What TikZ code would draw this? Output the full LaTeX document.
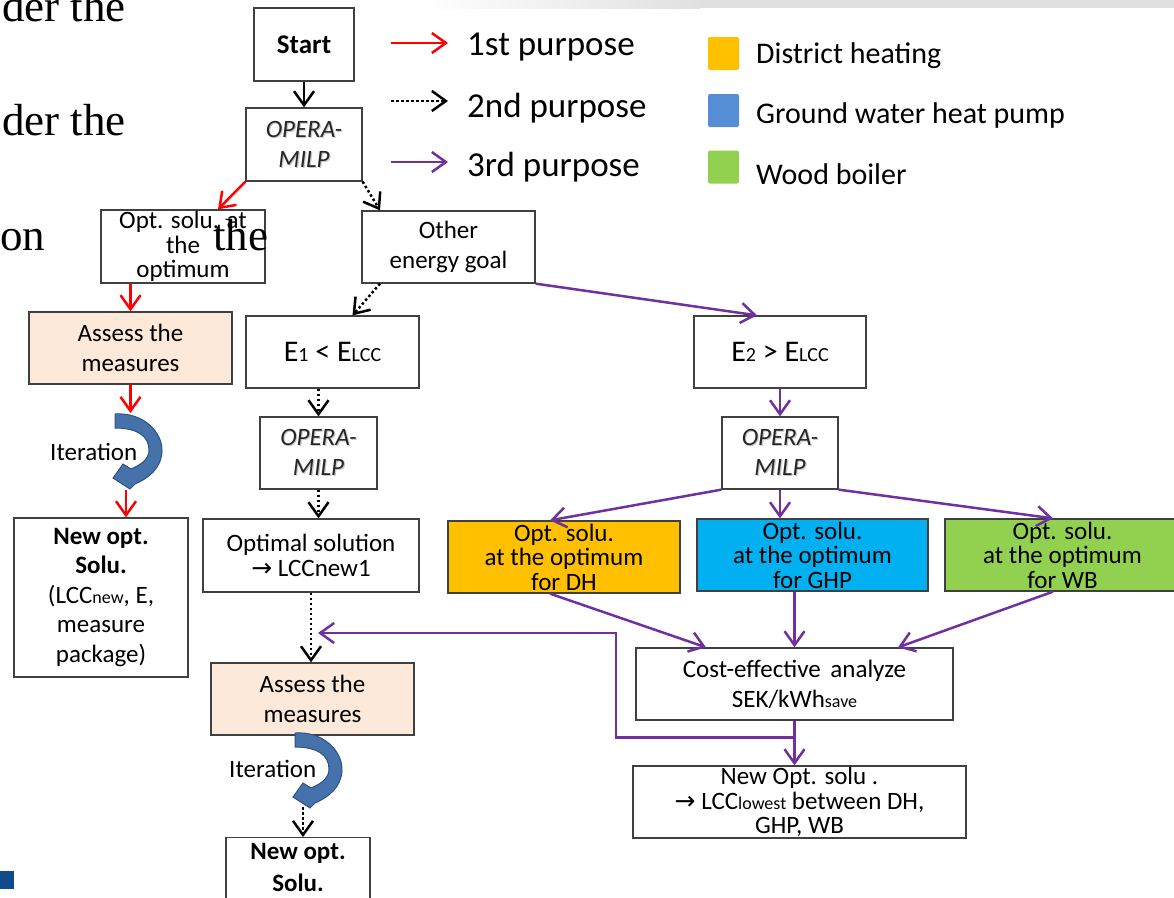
\documentclass[tikz,border=0pt]{standalone}
\usepackage{fontspec}
\setsansfont{Carlito}
\newfontfamily\symfont{DejaVu Sans}
\newfontfamily\slideserif{Liberation Serif}
\usetikzlibrary{arrows.meta}
\definecolor{edge_red}{RGB}{255,0,0}
\definecolor{edge_purple}{RGB}{112,48,160}
\definecolor{box_gray}{RGB}{64,64,64}
\definecolor{node_peach}{RGB}{253,233,217}
\definecolor{node_orange}{RGB}{255,192,0}
\definecolor{node_cyan}{RGB}{0,176,240}
\definecolor{node_green}{RGB}{146,208,80}
\definecolor{key_blue}{RGB}{85,142,213}
\definecolor{iter_blue}{RGB}{70,114,172}
\definecolor{iter_dark}{RGB}{44,82,130}
\definecolor{slide_blue}{RGB}{16,76,140}

\newcommand{\shtext}[1]{\rlap{\kern1.2pt\raisebox{-1.2pt}{\textcolor{black!22}{#1}}}#1}
\newcommand{\sm}[1]{{\fontsize{18}{18}\selectfont #1}}
\newcommand{\smE}[1]{{\fontsize{20}{20}\selectfont #1}}
\newcommand{\rarr}{{\symfont\char"2192}}
% curved blue "Iteration" arrow, drawn from its top left corner
\newcommand{\iterarc}[2]{%
  \filldraw[fill=iter_blue, draw=iter_dark, line width=1pt, shift={(#1,#2)}]
    (2,0) .. controls (30,-2) and (50,18) .. (49,38)
    .. controls (48,54) and (36,64) .. (22,70) -- (17,75) -- (0,64) -- (10,50) -- (18,55)
    .. controls (30,50) and (36,44) .. (36,36)
    .. controls (36,22) and (24,14) .. (2,14) -- cycle;}

\begin{document}
\begin{tikzpicture}[x=1pt,y=-1pt,>={Straight Barb[length=14pt,width=20pt]}]
    \tikzstyle{box}=[draw=box_gray, line width=1.3pt, fill=white, rectangle, inner sep=0pt, align=center, text=black, font=\sffamily\fontsize{25}{30}\selectfont]
    \tikzstyle{tight}=[font=\sffamily\fontsize{25}{24.5}\selectfont]
    \tikzstyle{peach}=[fill=node_peach]
    \tikzstyle{opera}=[font=\sffamily\itshape\fontsize{25}{30}\selectfont, text=black!85]
    \tikzstyle{keysq}=[rectangle, rounded corners=2pt, minimum width=31pt, minimum height=33pt, inner sep=0pt]
    \tikzstyle{keytext}=[anchor=base west, inner sep=0pt, font=\sffamily\fontsize{30}{30}\selectfont]
    \tikzstyle{purpose}=[anchor=base west, inner sep=0pt, font=\sffamily\fontsize{35}{35}\selectfont]
    \tikzstyle{solidarr}=[->, draw=black, line width=2.5pt]
    \tikzstyle{redarr}=[->, draw=edge_red, line width=2.5pt]
    \tikzstyle{purparr}=[->, draw=edge_purple, line width=2.5pt]
    \tikzstyle{dotarr}=[->, draw=black, line width=2.5pt, dash pattern=on 2.5pt off 2.5pt]
    \tikzstyle{slide}=[inner sep=0pt, font=\slideserif\fontsize{45}{45}\selectfont]

    \useasboundingbox (0,0) rectangle (1174,897);
    \clip (0,0) rectangle (1174,897);

    % slide background
    \fill[left color=white, right color=black!12] (420,0) rectangle (700,8);
    \fill[black!12] (700,0) rectangle (1174,8);
    \fill[slide_blue] (0,871) rectangle (14,889);

    % legend
    \node[purpose] (first)  at (467,55)  {1st purpose};
    \node[purpose] (second) at (467,117) {2nd purpose};
    \node[purpose] (third)  at (467,176) {3rd purpose};
    \draw[redarr]  ([xshift=-76pt,yshift=12pt]first.base west)  -- ([xshift=-19pt,yshift=12pt]first.base west);
    \draw[dotarr]  ([xshift=-76pt,yshift=16pt]second.base west) -- ([xshift=-19pt,yshift=16pt]second.base west);
    \draw[purparr] ([xshift=-76pt,yshift=14pt]third.base west)  -- ([xshift=-19pt,yshift=14pt]third.base west);

    \node[keysq, fill=node_orange] (dhkey)  at (723.5,53.5)  {};
    \node[keysq, fill=key_blue]    (ghpkey) at (723.5,110.5) {};
    \node[keysq, fill=node_green]  (wbkey)  at (723.5,167)   {};
    \node[keytext] at (756,63)  {District heating};
    \node[keytext] at (756,123) {Ground water heat pump};
    \node[keytext] at (756,184) {Wood boiler};

    % boxes
    \node[box, minimum width=100, minimum height=73, font=\sffamily\bfseries\fontsize{27}{30}\selectfont] (start) at (304,44.5) {Start};
    \node[box, opera, minimum width=116, minimum height=73] (milpa) at (304,144.5) {\shtext{OPERA-}\\\shtext{MILP}};
    \node[box, tight, minimum width=164, minimum height=73] (optfirst) at (183,246.5) {Opt. solu. at\\the\\optimum};
    \node[box, minimum width=173, minimum height=72] (goal) at (448.5,247) {Other\\energy goal};
    \node[box, peach, minimum width=203, minimum height=72] (assessfirst) at (130.5,348) {Assess the\\measures};
    \node[box, minimum width=173, minimum height=72, font=\sffamily\fontsize{30}{30}\selectfont] (elow) at (332.5,352) {E\smE{1} < E\smE{LCC}};
    \node[box, minimum width=172, minimum height=72, font=\sffamily\fontsize{30}{30}\selectfont] (ehigh) at (780,352) {E\smE{2} > E\smE{LCC}};
    \node[box, opera, minimum width=117, minimum height=72] (milpb) at (318.5,453) {\shtext{OPERA-}\\\shtext{MILP}};
    \node[box, opera, minimum width=116, minimum height=72] (milpc) at (780,453) {\shtext{OPERA-}\\\shtext{MILP}};
    \node[box, minimum width=174, minimum height=159, font=\sffamily\fontsize{25}{29.5}\selectfont] (newfirst) at (101,597.5)
        {\textbf{New opt.}\\\textbf{Solu.}\\(LCC\sm{new}, E,\\measure\\package)};
    \node[box, tight, minimum width=216, minimum height=73] (optsol) at (311,555.5) {Optimal solution\\\rarr{} LCCnew1};
    \node[box, tight, fill=node_orange, minimum width=232, minimum height=72] (dh)  at (564,557)    {Opt. solu.\\at the optimum\\for DH};
    \node[box, tight, fill=node_cyan,   minimum width=231, minimum height=72] (ghp) at (812.5,555)  {Opt. solu.\\at the optimum\\for GHP};
    \node[box, tight, fill=node_green,  minimum width=235, minimum height=72] (wb)  at (1062.5,555) {Opt. solu.\\at the optimum\\for WB};
    \node[box, minimum width=317, minimum height=72] (cost) at (794.5,684) {Cost-effective\hspace{4pt} analyze\\SEK/kWh\sm{save}};
    \node[box, peach, minimum width=203, minimum height=72] (assesssecond) at (312.5,699) {Assess the\\measures};
    \node[box, tight, minimum width=333, minimum height=72] (newbest) at (799.5,802) {New Opt. solu .\\\rarr{} LCC\sm{lowest} between DH,\\GHP, WB};
    \node[box, anchor=north, minimum width=144, inner ysep=6pt, text depth=110pt, font=\sffamily\bfseries\fontsize{25}{32}\selectfont] (newsecond) at (298,837) {New opt.\\Solu.};

    % iteration loops
    \iterarc{113}{414}
    \iterarc{293}{733}
    \node[anchor=west, inner sep=0pt, font=\sffamily\fontsize{25}{30}\selectfont] at (50,452)  {Iteration};
    \node[anchor=west, inner sep=0pt, font=\sffamily\fontsize{25}{30}\selectfont] at (229,769) {Iteration};
    \coordinate (iterain)  at (130.5,413);
    \coordinate (iteraout) at (126,490);
    \coordinate (iterbout) at (303,807);
    \coordinate (backturn) at (616,633);
    \coordinate (backtip)  at (318,633);

    % connectors
    \draw[solidarr] (start) -- (milpa);

    \draw[redarr] (milpa.south west) -- ([xshift=35pt]optfirst.north);
    \draw[redarr] (assessfirst.north |- optfirst.south) -- (assessfirst.north);
    \draw[redarr] (assessfirst.south) -- (iterain);
    \draw[redarr] (iteraout) -- (iteraout |- newfirst.north);

    \draw[dotarr] (milpa.south east) -- ([xshift=-68.5pt]goal.north);
    \draw[dotarr] ([xshift=-68.5pt]goal.south) -- ([xshift=20pt]elow.north);
    \draw[dotarr] (milpb.north |- elow.south) -- (milpb.north);
    \draw[dotarr] (milpb.south) -- (milpb.south |- optsol.north);
    \draw[dotarr] (optsol.south) -- (optsol.south |- assesssecond.north);
    \draw[dotarr] (iterbout) -- (iterbout |- newsecond.north);

    \draw[purparr] (goal.south east) -- ([xshift=-23pt]ehigh.north);
    \draw[purparr] (ehigh) -- (milpc);
    \draw[purparr] (milpc.south west) -- ([xshift=-14pt]dh.north);
    \draw[purparr] (milpc.south) -- (milpc.south |- ghp.north);
    \draw[purparr] (milpc.south east) -- ([xshift=-9.5pt]wb.north);
    \draw[purparr] ([xshift=-14pt]dh.south) -- ([xshift=-88.5pt]cost.north);
    \draw[purparr] (cost.north |- ghp.south) -- (cost.north);
    \draw[purparr] ([xshift=-9.5pt]wb.south) -- ([xshift=103.5pt]cost.north);
    \draw[purparr] (cost.south) -- (cost.south |- newbest.north);
    \draw[purparr] ([yshift=-17pt]cost.south) -| (backturn) -- (backtip);

    % slide text behind the diagram
    \node[slide, anchor=base east] at (126,21)  {der the};
    \node[slide, anchor=base east] at (126,135) {der the};
    \node[slide, anchor=base west] at (0,250)   {on};
    \node[slide, anchor=base west] at (213,250) {the};
\end{tikzpicture}
\end{document}
